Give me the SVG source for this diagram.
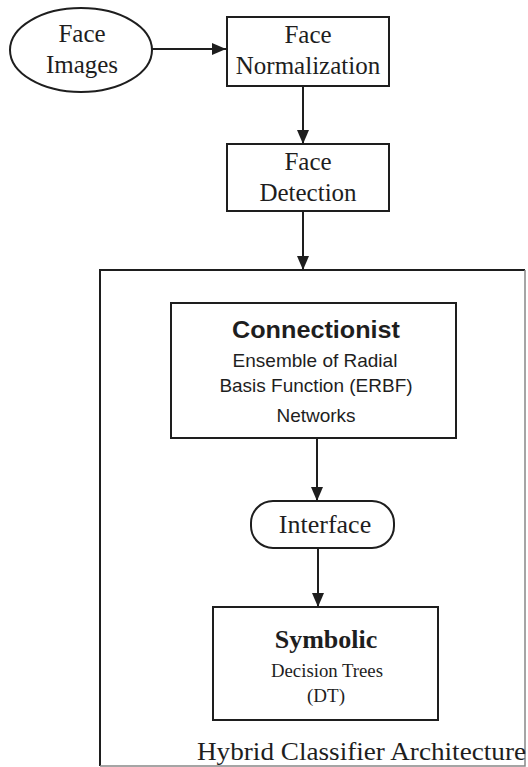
<svg xmlns="http://www.w3.org/2000/svg" width="528" height="767" viewBox="0 0 528 767">
<style>
.s{fill:#fff;stroke:#1e1e1e;stroke-width:2}
.c{stroke:#1e1e1e;stroke-width:2;fill:none}
.t{font-family:"Liberation Serif","Times New Roman",serif;fill:#1e1e1e;text-anchor:middle}
.a{font-family:"Liberation Sans",Arial,sans-serif;fill:#1e1e1e;text-anchor:middle}
.l{text-anchor:start}
</style>
<defs>
<marker id="ah" viewBox="0 0 14 12" refX="14" refY="6" markerWidth="14" markerHeight="12" markerUnits="userSpaceOnUse" orient="auto">
<path d="M0,0L14,6L0,12z" fill="#1e1e1e"/>
</marker>
</defs>
<g id="hybrid">
<path d="M100,766V270H525" class="c"/>
<path d="M525,270V766H100" stroke="#888" stroke-width="1.5" fill="none"/>
<text class="t l" x="197" y="760" font-size="26" textLength="329" lengthAdjust="spacingAndGlyphs">Hybrid Classifier Architecture</text>
</g>
<g id="faceimages">
<ellipse class="s" cx="81" cy="50" rx="71" ry="42"/>
<text class="t" x="82" y="42" font-size="25">Face</text>
<text class="t" x="82" y="73" font-size="25">Images</text>
</g>
<g id="normalization">
<rect class="s" x="227" y="17" width="162" height="69"/>
<text class="t" x="308" y="43" font-size="25">Face</text>
<text class="t" x="308" y="74" font-size="25">Normalization</text>
</g>
<g id="detection">
<rect class="s" x="227" y="144" width="162" height="67"/>
<text class="t" x="308" y="170" font-size="25">Face</text>
<text class="t" x="308" y="201" font-size="25">Detection</text>
</g>
<g id="connectionist">
<rect class="s" x="171" y="303" width="285" height="135"/>
<text class="a" x="316" y="338" font-size="24" font-weight="bold" textLength="168" lengthAdjust="spacingAndGlyphs">Connectionist</text>
<text class="a" x="315" y="367" font-size="19">Ensemble of Radial</text>
<text class="a" x="316" y="392" font-size="19">Basis Function (ERBF)</text>
<text class="a" x="316" y="422" font-size="19">Networks</text>
</g>
<g id="interface">
<rect class="s" x="251" y="501" width="143" height="47" rx="22" ry="22"/>
<text class="t" x="325" y="533" font-size="26">Interface</text>
</g>
<g id="symbolic">
<rect class="s" x="213" y="607" width="225" height="113"/>
<text class="t" x="326" y="648" font-size="26" font-weight="bold">Symbolic</text>
<text class="t" x="327" y="677" font-size="19" textLength="112" lengthAdjust="spacingAndGlyphs">Decision Trees</text>
<text class="t" x="326" y="702" font-size="19">(DT)</text>
</g>
<g id="connectors">
<line class="c" x1="152" y1="49" x2="226" y2="49" marker-end="url(#ah)"/>
<line class="c" x1="303" y1="86" x2="303" y2="144" marker-end="url(#ah)"/>
<line class="c" x1="303" y1="211" x2="303" y2="270" marker-end="url(#ah)"/>
<line class="c" x1="317" y1="438" x2="317" y2="501" marker-end="url(#ah)"/>
<line class="c" x1="318" y1="548" x2="318" y2="607" marker-end="url(#ah)"/>
</g>
</svg>
